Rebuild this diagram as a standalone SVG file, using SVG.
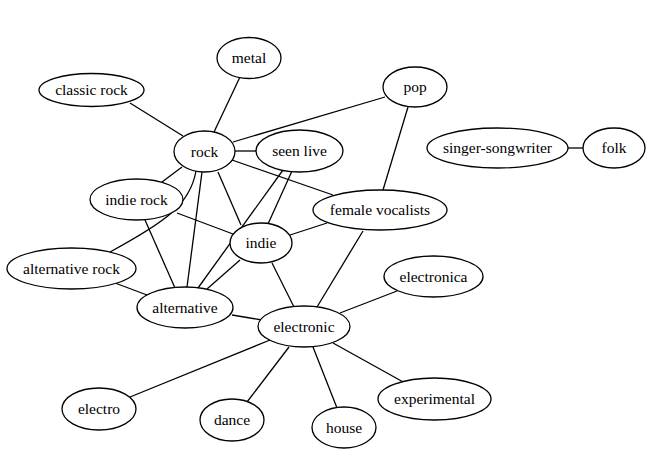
<svg xmlns="http://www.w3.org/2000/svg" width="670" height="456" viewBox="0 0 670 456">
<style>
.n ellipse{fill:#fff;stroke:#000;stroke-width:1.3}
#edges line,#edges path{stroke:#000;stroke-width:1.3;fill:none}
</style>
<rect width="670" height="456" fill="#fff"/>
<g id="edges">
<line x1="130" y1="103" x2="183" y2="136"/>
<line x1="240" y1="77" x2="214" y2="132"/>
<line x1="233" y1="142" x2="385" y2="97"/>
<line x1="235" y1="151" x2="256" y2="151"/>
<line x1="232" y1="160" x2="333" y2="195"/>
<line x1="182" y1="167" x2="162" y2="182"/>
<line x1="202" y1="172" x2="187" y2="287"/>
<path d="M196,171 C190,205 165,222 110,252"/>
<line x1="218" y1="172" x2="241" y2="225"/>
<line x1="283" y1="170" x2="198" y2="288"/>
<line x1="292" y1="171" x2="268" y2="224"/>
<line x1="177" y1="213" x2="233" y2="234"/>
<line x1="145" y1="220" x2="175" y2="288"/>
<line x1="240" y1="260" x2="207" y2="289"/>
<line x1="408" y1="107" x2="383" y2="190"/>
<line x1="290" y1="235" x2="327" y2="223"/>
<line x1="363" y1="231" x2="317" y2="307"/>
<line x1="272" y1="263" x2="294" y2="307"/>
<line x1="115" y1="283" x2="147" y2="295"/>
<line x1="232" y1="315" x2="262" y2="320"/>
<line x1="340" y1="313" x2="397" y2="291"/>
<line x1="333" y1="343" x2="405" y2="383"/>
<line x1="313" y1="347" x2="337" y2="408"/>
<line x1="289" y1="347" x2="247" y2="402"/>
<line x1="270" y1="340" x2="130" y2="397"/>
<line x1="568" y1="148" x2="583" y2="148"/>
</g>
<g font-family="Liberation Serif, Times New Roman, serif" font-size="15.5" text-anchor="middle" fill="#000">
<g id="metal" class="n"><ellipse cx="249" cy="58" rx="32" ry="20.5"/><text x="249" y="63">metal</text></g>
<g id="classic-rock" class="n"><ellipse cx="91.5" cy="90" rx="52.5" ry="16.5"/><text x="91.5" y="95">classic rock</text></g>
<g id="pop" class="n"><ellipse cx="415" cy="87" rx="32" ry="20"/><text x="415" y="92">pop</text></g>
<g id="rock" class="n"><ellipse cx="204.5" cy="151.5" rx="30.5" ry="20.5"/><text x="204.5" y="156.5">rock</text></g>
<g id="seen-live" class="n"><ellipse cx="299.5" cy="151" rx="43.5" ry="21"/><text x="299.5" y="156">seen live</text></g>
<g id="singer-songwriter" class="n"><ellipse cx="497.5" cy="148" rx="70.5" ry="20"/><text x="497.5" y="153">singer-songwriter</text></g>
<g id="folk" class="n"><ellipse cx="614" cy="148" rx="31" ry="20"/><text x="614" y="153">folk</text></g>
<g id="indie-rock" class="n"><ellipse cx="136.5" cy="199.5" rx="46.5" ry="20.5"/><text x="136.5" y="204.5">indie rock</text></g>
<g id="female-vocalists" class="n"><ellipse cx="380" cy="210" rx="67" ry="20"/><text x="380" y="215">female vocalists</text></g>
<g id="indie" class="n"><ellipse cx="261" cy="243" rx="31" ry="20"/><text x="261" y="248">indie</text></g>
<g id="alternative-rock" class="n"><ellipse cx="71.5" cy="268.5" rx="64.5" ry="20.5"/><text x="71.5" y="273.5">alternative rock</text></g>
<g id="electronica" class="n"><ellipse cx="433.5" cy="276.5" rx="49.5" ry="20.5"/><text x="433.5" y="281.5">electronica</text></g>
<g id="alternative" class="n"><ellipse cx="185" cy="307.5" rx="48" ry="20.5"/><text x="185" y="312.5">alternative</text></g>
<g id="electronic" class="n"><ellipse cx="304" cy="326.5" rx="46" ry="20.5"/><text x="304" y="331.5">electronic</text></g>
<g id="experimental" class="n"><ellipse cx="434.5" cy="399" rx="56.5" ry="21"/><text x="434.5" y="404">experimental</text></g>
<g id="electro" class="n"><ellipse cx="99" cy="409" rx="37" ry="21"/><text x="99" y="414">electro</text></g>
<g id="dance" class="n"><ellipse cx="232" cy="420" rx="32" ry="21"/><text x="232" y="425">dance</text></g>
<g id="house" class="n"><ellipse cx="344" cy="427.5" rx="32" ry="20.5"/><text x="344" y="432.5">house</text></g>
</g>
</svg>
